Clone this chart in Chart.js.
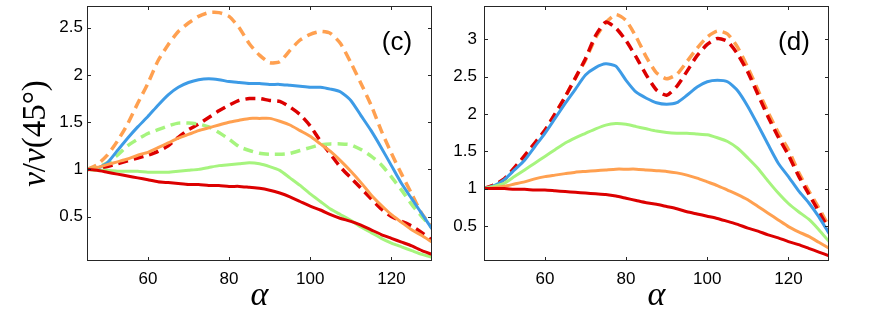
<!DOCTYPE html>
<html>
<head>
<meta charset="utf-8">
<style>
  body { margin: 0; background: #fff; }
  #wrap { position: relative; width: 872px; height: 316px; }
  canvas { position: absolute; top: 0; }
  #chartC { left: 0; }
  #chartD { left: 440px; }
</style>
</head>
<body>
<div id="wrap">
  <canvas id="chartC" width="440" height="316"></canvas>
  <canvas id="chartD" width="432" height="316"></canvas>
</div>

<script src="https://cdn.jsdelivr.net/npm/chart.js"></script>

<script>
    // angle grid (degrees)
    const alpha = [45, 47.5, 50, 52.5, 55, 57.5, 60, 62.5, 65, 67.5, 70, 72.5, 75, 77.5, 80, 82.5, 85, 87.5,
                   90, 92.5, 95, 97.5, 100, 102.5, 105, 107.5, 110, 112.5, 115, 117.5, 120, 122.5, 125, 127.5, 130];
    const xTicks = [60, 80, 100, 120];

    // panel (c)
    const cTicks = [0.5, 1, 1.5, 2, 2.5];
    const cRed = [1.00, 0.99, 0.97, 0.95, 0.93, 0.91, 0.89, 0.87, 0.86, 0.85, 0.84, 0.84, 0.83, 0.83, 0.82, 0.82, 0.81, 0.80,
                  0.78, 0.75, 0.71, 0.66, 0.61, 0.57, 0.52, 0.48, 0.45, 0.41, 0.36, 0.31, 0.27, 0.23, 0.19, 0.14, 0.10];
    const cGreen = [1.00, 0.99, 0.99, 0.98, 0.98, 0.98, 0.97, 0.97, 0.97, 0.98, 0.99, 1.00, 1.02, 1.04, 1.05, 1.06, 1.07, 1.06,
                    1.03, 0.99, 0.91, 0.83, 0.74, 0.66, 0.58, 0.52, 0.46, 0.39, 0.33, 0.27, 0.22, 0.18, 0.14, 0.10, 0.07];
    const cOrange = [1.00, 1.02, 1.05, 1.08, 1.11, 1.15, 1.18, 1.23, 1.28, 1.33, 1.37, 1.41, 1.44, 1.47, 1.50, 1.52, 1.54, 1.54,
                     1.54, 1.51, 1.47, 1.41, 1.35, 1.27, 1.19, 1.09, 0.98, 0.86, 0.73, 0.62, 0.52, 0.44, 0.36, 0.30, 0.23];
    const cBlue = [1.00, 1.01, 1.07, 1.20, 1.33, 1.45, 1.56, 1.68, 1.79, 1.87, 1.92, 1.95, 1.96, 1.95, 1.93, 1.92, 1.91, 1.91,
                   1.90, 1.90, 1.89, 1.88, 1.87, 1.87, 1.85, 1.82, 1.73, 1.57, 1.41, 1.23, 1.04, 0.85, 0.69, 0.53, 0.37];
    const cGreenDash = [1.00, 1.02, 1.07, 1.15, 1.25, 1.32, 1.38, 1.42, 1.46, 1.49, 1.49, 1.48, 1.45, 1.39, 1.32, 1.24, 1.20, 1.17,
                        1.16, 1.16, 1.17, 1.20, 1.23, 1.26, 1.27, 1.27, 1.26, 1.21, 1.14, 1.05, 0.92, 0.78, 0.63, 0.50, 0.38];
    const cRedDash = [1.00, 1.01, 1.03, 1.06, 1.09, 1.12, 1.15, 1.19, 1.25, 1.34, 1.42, 1.48, 1.55, 1.62, 1.68, 1.73, 1.75, 1.75,
                      1.73, 1.72, 1.66, 1.58, 1.46, 1.30, 1.16, 1.02, 0.91, 0.80, 0.69, 0.58, 0.50, 0.45, 0.40, 0.33, 0.25];
    const cOrangeDash = [1.00, 1.05, 1.15, 1.30, 1.48, 1.70, 1.91, 2.15, 2.32, 2.46, 2.55, 2.62, 2.66, 2.66, 2.62, 2.50, 2.33, 2.21,
                         2.13, 2.14, 2.26, 2.37, 2.43, 2.46, 2.44, 2.33, 2.13, 1.91, 1.68, 1.41, 1.17, 0.95, 0.74, 0.53, 0.39];

    // panel (d)
    const dTicks = [0.5, 1, 1.5, 2, 2.5, 3];
    const dRed = [1.00, 1.00, 1.00, 0.99, 0.99, 0.98, 0.98, 0.97, 0.96, 0.95, 0.94, 0.93, 0.92, 0.90, 0.87, 0.84, 0.81, 0.79,
                  0.76, 0.73, 0.69, 0.66, 0.63, 0.60, 0.56, 0.52, 0.47, 0.43, 0.38, 0.34, 0.29, 0.25, 0.20, 0.15, 0.10];
    const dOrange = [1.00, 1.01, 1.03, 1.06, 1.09, 1.13, 1.16, 1.18, 1.20, 1.22, 1.23, 1.24, 1.25, 1.26, 1.26, 1.26, 1.25, 1.24,
                     1.23, 1.21, 1.18, 1.14, 1.09, 1.04, 0.98, 0.92, 0.85, 0.76, 0.67, 0.58, 0.49, 0.42, 0.36, 0.28, 0.20];
    const dGreen = [1.00, 1.03, 1.07, 1.16, 1.25, 1.34, 1.43, 1.52, 1.61, 1.68, 1.74, 1.80, 1.85, 1.87, 1.86, 1.83, 1.80, 1.77,
                    1.75, 1.74, 1.74, 1.73, 1.72, 1.68, 1.63, 1.54, 1.41, 1.27, 1.10, 0.94, 0.80, 0.69, 0.59, 0.45, 0.29];
    const dBlue = [1.00, 1.04, 1.12, 1.25, 1.38, 1.56, 1.74, 1.94, 2.14, 2.33, 2.52, 2.62, 2.67, 2.64, 2.45, 2.29, 2.21, 2.15,
                   2.13, 2.15, 2.25, 2.36, 2.43, 2.45, 2.43, 2.31, 2.10, 1.85, 1.59, 1.34, 1.16, 0.97, 0.81, 0.62, 0.40];
    const dRedDash = [1.00, 1.05, 1.13, 1.28, 1.44, 1.61, 1.78, 2.00, 2.23, 2.48, 2.74, 3.05, 3.23, 3.15, 2.98, 2.76, 2.52, 2.32,
                      2.25, 2.37, 2.57, 2.78, 2.93, 3.01, 2.97, 2.80, 2.56, 2.26, 1.96, 1.69, 1.45, 1.17, 0.93, 0.69, 0.45];
    const dOrangeDash = [1.00, 1.05, 1.12, 1.27, 1.43, 1.60, 1.78, 2.00, 2.23, 2.48, 2.72, 3.02, 3.22, 3.33, 3.25, 3.03, 2.76, 2.55,
                         2.47, 2.53, 2.70, 2.88, 3.03, 3.11, 3.07, 2.89, 2.62, 2.32, 2.02, 1.75, 1.52, 1.22, 0.97, 0.74, 0.49];

    // y label pieces: [text, font style]
    const yLabelParts = [['v', 'italic'], ['/', 'normal'], ['v', 'italic'], ['(45°)', 'normal']];

    const RED = '#dc0000';
    const GREEN = '#a6f47e';
    const ORANGE = '#ffa050';
    const BLUE = '#3d9be6';
    const SANS = '"Liberation Sans", Arial, sans-serif';
    const SERIF = '"Liberation Serif", "Times New Roman", serif';

    // box + inward ticks on all four sides, panel tag, mixed-style y label
    const framePlugin = {
        id: 'frame',
        afterDraw(chart, args, opts) {
            const { ctx, chartArea: a, scales: { x, y } } = chart;
            ctx.save();
            ctx.strokeStyle = '#262626';
            ctx.lineWidth = 1;
            ctx.strokeRect(Math.round(a.left) + 0.5, Math.round(a.top) + 0.5,
                Math.round(a.right - a.left) - 1, Math.round(a.bottom - a.top) - 1);
            ctx.beginPath();
            x.ticks.forEach(t => {
                const px = Math.round(x.getPixelForValue(t.value)) + 0.5;
                ctx.moveTo(px, a.bottom); ctx.lineTo(px, a.bottom - 4);
                ctx.moveTo(px, a.top); ctx.lineTo(px, a.top + 4);
            });
            y.ticks.forEach(t => {
                const py = Math.round(y.getPixelForValue(t.value)) + 0.5;
                ctx.moveTo(a.left, py); ctx.lineTo(a.left + 4, py);
                ctx.moveTo(a.right, py); ctx.lineTo(a.right - 4, py);
            });
            ctx.stroke();
            ctx.fillStyle = '#000';
            ctx.font = '26px ' + SANS;
            ctx.textAlign = 'center';
            ctx.textBaseline = 'middle';
            ctx.fillText(opts.tag, a.right - 35, a.top + 37);

            if (opts.yLabel) {
                ctx.translate(36, (a.top + a.bottom) / 2);
                ctx.rotate(-Math.PI / 2);
                ctx.textAlign = 'left';
                const fontOf = st => st + ' 33px ' + SERIF;
                let total = 0;
                opts.yLabel.forEach(([s, st]) => { ctx.font = fontOf(st); total += ctx.measureText(s).width; });
                let cx = -total / 2;
                opts.yLabel.forEach(([s, st]) => {
                    ctx.font = fontOf(st);
                    ctx.fillText(s, cx, 0);
                    cx += ctx.measureText(s).width;
                });
            }
            ctx.restore();
        }
    };

    function line(data, color, dashed) {
        return {
            data: data.map((v, i) => ({ x: alpha[i], y: v })),
            borderColor: color,
            borderWidth: dashed ? 3.5 : 3,
            borderDash: dashed ? [10, 6] : [],
            pointRadius: 0,
            tension: 0.2,
            fill: false
        };
    }

    function makeChart(id, tag, datasets, yMin, yMax, yTicks, yLabel, yWidth, yPad, rightPad) {
        new Chart(document.getElementById(id), {
            type: 'line',
            data: { datasets: datasets },
            plugins: [framePlugin],
            options: {
                responsive: false,
                devicePixelRatio: 1,
                animation: false,
                layout: { padding: { left: 0, right: rightPad, top: 6, bottom: 0 } },
                plugins: {
                    legend: { display: false },
                    tooltip: { enabled: false },
                    frame: { tag: tag, yLabel: yLabel }
                },
                scales: {
                    x: {
                        type: 'linear',
                        min: 45,
                        max: 130,
                        afterBuildTicks: s => { s.ticks = xTicks.map(v => ({ value: v })); },
                        afterFit: s => { s.height = 55; s.paddingLeft = 0; s.paddingRight = 0; },
                        grid: { display: false, drawTicks: false },
                        border: { display: false },
                        ticks: { color: '#000', padding: 8, maxRotation: 0, font: { family: SANS, size: 17 } },
                        title: {
                            display: true,
                            text: 'α',
                            color: '#000',
                            padding: { top: 0, bottom: 0 },
                            font: { family: SERIF, size: 34, style: 'italic' }
                        }
                    },
                    y: {
                        type: 'linear',
                        min: yMin,
                        max: yMax,
                        afterBuildTicks: s => { s.ticks = yTicks.map(v => ({ value: v })); },
                        afterFit: s => { s.width = yWidth; s.paddingTop = 0; s.paddingBottom = 0; },
                        grid: { display: false, drawTicks: false },
                        border: { display: false },
                        ticks: { color: '#000', padding: yPad, callback: v => String(v), font: { family: SANS, size: 17 } }
                    }
                }
            }
        });
    }

    makeChart('chartC', '(c)', [
        line(cRed, RED, false),
        line(cGreen, GREEN, false),
        line(cOrange, ORANGE, false),
        line(cBlue, BLUE, false),
        line(cGreenDash, GREEN, true),
        line(cRedDash, RED, true),
        line(cOrangeDash, ORANGE, true)
    ], 0.03, 2.73, cTicks, yLabelParts, 87, 4, 8);

    makeChart('chartD', '(d)', [
        line(dRed, RED, false),
        line(dOrange, ORANGE, false),
        line(dGreen, GREEN, false),
        line(dBlue, BLUE, false),
        line(dRedDash, RED, true),
        line(dOrangeDash, ORANGE, true)
    ], 0.03, 3.445, dTicks, null, 44, 7, 43);
</script>
</body>
</html>
